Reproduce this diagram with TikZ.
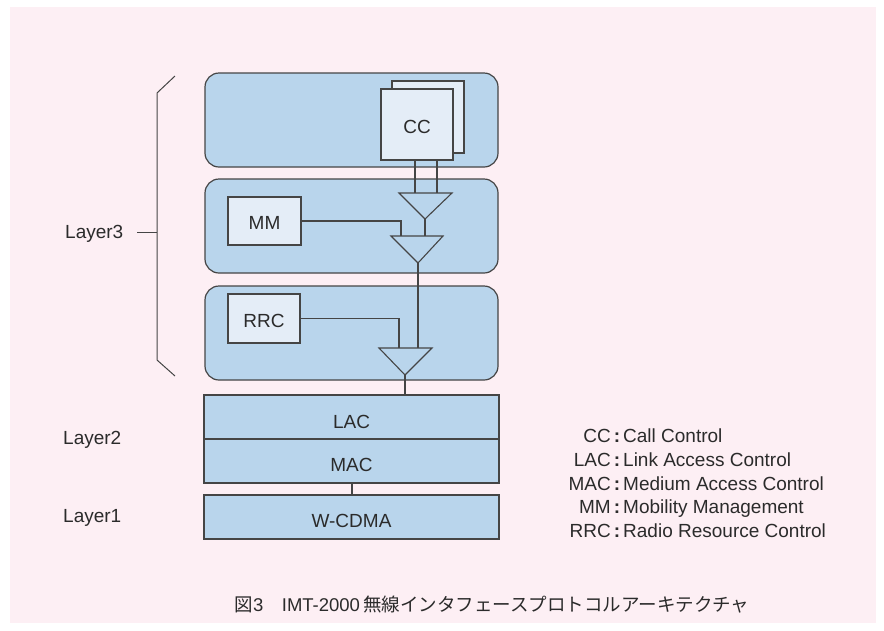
\documentclass[tikz,border=0pt]{standalone}
\usepackage{fontspec}
\setmainfont{Liberation Sans}
\newfontfamily\jpfont{Noto Sans CJK JP}
\definecolor{bgpink}{HTML}{FDEFF4}
\definecolor{boxblue}{HTML}{B9D5EC}
\definecolor{innerbox}{HTML}{E4EDF7}
\definecolor{edgecol}{HTML}{454545}
\definecolor{txtcol}{HTML}{2B2B2B}
\begin{document}
\begin{tikzpicture}[x=1pt,y=-1pt,
  lbl/.style={text=txtcol, font=\fontsize{19}{22}\selectfont, inner sep=0pt},
  layerbox/.style={draw=edgecol, line width=1.2pt, fill=boxblue, rounded corners=14pt,
     minimum width=293pt, minimum height=94pt, inner sep=0pt, outer sep=0pt},
  flatbox/.style={draw=edgecol, line width=1.2pt, fill=boxblue,
     minimum width=295pt, minimum height=44pt, inner sep=0pt, outer sep=0pt},
  funcbox/.style={draw=edgecol, line width=1.2pt, fill=innerbox,
     inner sep=0pt, outer sep=0pt},
  wire/.style={draw=edgecol, line width=1.1pt},
  tri/.style={draw=edgecol, line width=1.1pt, fill=boxblue, line join=miter}
]
\useasboundingbox (0,0) rectangle (884,630);
\fill[white] (0,0) rectangle (884,630);
\fill[bgpink] (10,7) rectangle (876,623);

% Layer 3 boxes
\node[layerbox] (L3a) at (351.5,120) {};
\node[layerbox] (L3b) at (351.5,226) {};
\node[layerbox] (L3c) at (351.5,333) {};

% Layer 2 / 1 boxes
\node[flatbox] (lac) at (351.5,417) {};
\node[flatbox] (mac) at (351.5,461) {};
\node[flatbox] (wcdma) at (351.5,517) {};
\node[lbl, anchor=base] (lact) at (351.5,428) {LAC};
\node[lbl, anchor=base] (mact) at (351.5,471.5) {MAC};
\node[lbl, anchor=base] (wcdmat) at (351.5,527.5) {W-CDMA};

% function boxes
\node[funcbox, minimum width=72pt, minimum height=72pt] (ccback) at (428,117) {};
\node[funcbox, minimum width=72pt, minimum height=71pt] (cc) at (417,124.5) {};
\node[funcbox, minimum width=73pt, minimum height=48pt] (mm) at (264.5,221) {};
\node[funcbox, minimum width=72pt, minimum height=49pt] (rrc) at (264,318.5) {};
\node[lbl, anchor=base] (cct) at (417,133) {CC};
\node[lbl, anchor=base] (mmt) at (264.5,229) {MM};
\node[lbl, anchor=base] (rrct) at (264,327) {RRC};

% triangles (multiplexers)
\coordinate (t1l) at (399,193); \coordinate (t1r) at (452,193); \coordinate (t1a) at (425,219);
\coordinate (t2l) at (391,236); \coordinate (t2r) at (443,236); \coordinate (t2a) at (418,263);
\coordinate (t3l) at (379,348); \coordinate (t3r) at (432,348); \coordinate (t3a) at (405,375);
\path[tri] (t1l) -- (t1r) -- (t1a) -- cycle;
\path[tri] (t2l) -- (t2r) -- (t2a) -- cycle;
\path[tri] (t3l) -- (t3r) -- (t3a) -- cycle;

% connectors
\path[wire] (cc.south -| 415,0) -- (415,193);
\path[wire] (cc.south -| 437,0) -- (437,193);
\path[wire] (t1a) -- (t1a |- t2l);
\path[wire] (mm.east) -- (401,221) -- (401,236);
\path[wire] (t2a) -- (t2a |- t3l);
\path[wire] (rrc.east) -- (399,318.5) -- (399,348);
\path[wire] (t3a) -- (t3a |- lac.north);
\path[wire] (mac.south -| 352,0) -- (wcdma.north -| 352,0);

% brace
\coordinate (brtop) at (175,76);
\coordinate (brbot) at (175,376);
\coordinate (brmid) at (157,232);
\path[draw=edgecol, line width=1pt] (brtop) -- (157,93) -- (157,360) -- (brbot);
\node[lbl, anchor=base west] (lay3) at (65,238) {Layer3};
\path[draw=edgecol, line width=1pt] (137,232) -- (brmid);
\node[lbl, anchor=base west] (lay2) at (63,444) {Layer2};
\node[lbl, anchor=base west] (lay1) at (63,522) {Layer1};

% legend
\foreach \ab/\desc/\yy [count=\i] in {CC/Call Control/442, LAC/Link Access Control/466,
   MAC/Medium Access Control/490, MM/Mobility Management/513, RRC/Radio Resource Control/537}{
  \node[lbl, anchor=base east] (ab\i) at (611,\yy) {\ab};
  \node[lbl, anchor=base, font=\bfseries\fontsize{19}{22}\selectfont] (co\i) at (617,\yy) {:};
  \node[lbl, anchor=base west] (de\i) at (623,\yy) {\desc};
}

% caption
\node[text=txtcol, font=\jpfont\fontsize{18.5}{22}\selectfont, inner sep=0pt] (cap) at (492,605)
  {図{\rmfamily 3}\quad{\rmfamily IMT-2000}\,無線インタフェースプロトコルアーキテクチャ};
\end{tikzpicture}
\end{document}
